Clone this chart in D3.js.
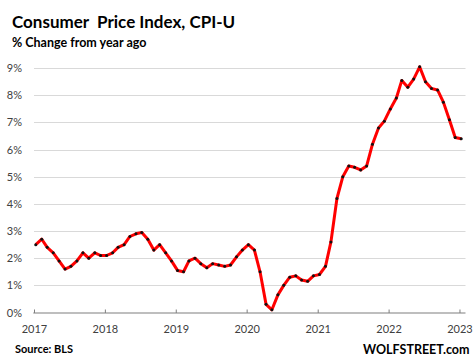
<!DOCTYPE html>
<html>
<head>
<meta charset="utf-8">
<script src="https://cdn.jsdelivr.net/npm/d3@7"></script>
<style>
  html, body { margin: 0; padding: 0; background: #fff; }
  svg { display: block; }
  text { font-family: Lato, "Open Sans", sans-serif; }
</style>
</head>
<body>
<svg id="chart" width="474" height="361"></svg>
<script>
// Monthly CPI-U, % change from year ago, Jan 2017 .. Jan 2023
const startYear = 2017;
const cpiValues = [
  2.5, 2.7, 2.4, 2.2, 1.9, 1.6, 1.7, 1.9, 2.2, 2.0, 2.2, 2.1, // 2017
  2.1, 2.2, 2.4, 2.5, 2.8, 2.9, 2.95, 2.7, 2.3, 2.5, 2.2, 1.9, // 2018
  1.55, 1.5, 1.9, 2.0, 1.8, 1.65, 1.8, 1.75, 1.7, 1.75, 2.05, 2.3, // 2019
  2.5, 2.3, 1.5, 0.3, 0.1, 0.65, 1.0, 1.3, 1.35, 1.2, 1.15, 1.35, // 2020
  1.4, 1.7, 2.6, 4.2, 5.0, 5.4, 5.35, 5.25, 5.4, 6.2, 6.8, 7.05, // 2021
  7.5, 7.9, 8.55, 8.3, 8.6, 9.05, 8.5, 8.25, 8.2, 7.75, 7.1, 6.45, // 2022
  6.4 // 2023
];
const yearTicks = [2017, 2018, 2019, 2020, 2021, 2022, 2023];
const yTicks = [0, 1, 2, 3, 4, 5, 6, 7, 8, 9];

const data = cpiValues.map((v, i) => ({
  date: new Date(startYear + Math.floor(i / 12), i % 12, 10),
  value: v
}));

const svg = d3.select("#chart");
const x = d3.scaleTime()
  .domain([new Date(2017, 0, 1), new Date(2023, 1, 1)])
  .range([34, 465.5]);
const y = d3.scaleLinear().domain([0, 9]).range([312.5, 68.2]);

// gridlines
svg.append("g").selectAll("line")
  .data(yTicks.filter(d => d > 0))
  .join("line")
  .attr("x1", 34).attr("x2", 465.5)
  .attr("y1", d => Math.round(y(d)) + 0.5).attr("y2", d => Math.round(y(d)) + 0.5)
  .attr("stroke", "#d9d9d9").attr("stroke-width", 1);

// y labels
svg.append("g").selectAll("text")
  .data(yTicks)
  .join("text")
  .attr("x", 22).attr("y", d => y(d) + 4)
  .attr("text-anchor", "end")
  .attr("font-size", 11)
  .attr("fill", "#404040")
  .text(d => d + "%");

// x axis
const xAxis = d3.axisBottom(x)
  .tickValues(yearTicks.map(yr => new Date(yr, 0, 1)))
  .tickFormat(d3.timeFormat("%Y"))
  .tickSize(4)
  .tickSizeOuter(0);
const gx = svg.append("g")
  .attr("transform", "translate(0,312.5)")
  .call(xAxis);
gx.select(".domain").attr("stroke", "#7f7f7f").attr("stroke-width", 1.2)
  .attr("d", `M33.3,0.5H465.5`);
gx.selectAll(".tick line").attr("stroke", "#7f7f7f").attr("y1", -3).attr("y2", 0.5);
gx.selectAll(".tick text")
  .attr("font-family", "Lato, sans-serif")
  .attr("font-size", 11)
  .attr("fill", "#404040")
  .attr("dy", 0).attr("y", 20);

// line
const line = d3.line().x(d => x(d.date)).y(d => y(d.value));
svg.append("path")
  .datum(data)
  .attr("d", line)
  .attr("fill", "none")
  .attr("stroke", "#ff0000")
  .attr("stroke-width", 3)
  .attr("stroke-linejoin", "round");

svg.append("g").selectAll("circle")
  .data(data)
  .join("circle")
  .attr("cx", d => x(d.date))
  .attr("cy", d => y(d.value))
  .attr("r", 1.5)
  .attr("fill", "#111");

// titles
svg.append("text")
  .attr("x", 12).attr("y", 28)
  .attr("font-size", 17).attr("font-weight", "bold").attr("fill", "#000")
  .attr("xml:space", "preserve")
  .text("Consumer  Price Index, CPI-U");
svg.append("text")
  .attr("x", 12).attr("y", 47)
  .attr("font-size", 12.5).attr("font-weight", "bold").attr("fill", "#000")
  .text("% Change from year ago");
svg.append("text")
  .attr("x", 15).attr("y", 352.5)
  .attr("font-size", 11).attr("font-weight", "bold").attr("fill", "#000")
  .text("Source: BLS");
svg.append("text")
  .attr("x", 469.5).attr("y", 354)
  .attr("text-anchor", "end")
  .attr("font-size", 12.5).attr("font-weight", "bold").attr("fill", "#000")
  .text("WOLFSTREET.com");
</script>
</body>
</html>
